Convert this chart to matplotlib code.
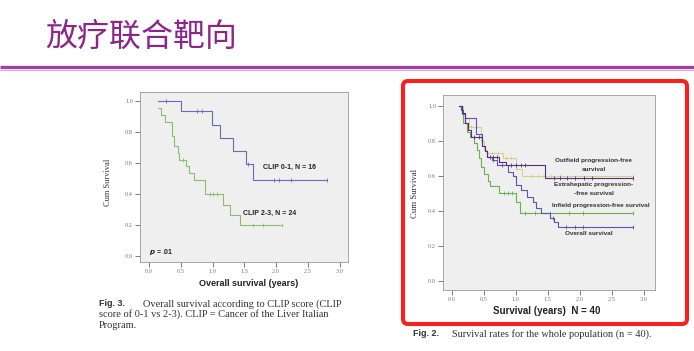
import numpy as np
import matplotlib.pyplot as plt
from matplotlib.patches import FancyBboxPatch

plt.rcParams['font.family'] = ['Liberation Sans', 'Noto Sans CJK SC', 'DejaVu Sans']

W, H = 694, 351

# Fig. 3 - overall survival by CLIP score (step curves: time of drop, new level)
clip01_t = [0.15, 0.51, 0.99, 1.12, 1.32, 1.53, 1.64, 2.80]
clip01_s = [1.0, 0.9375, 0.85, 0.765, 0.68, 0.595, 0.49, 0.49]
clip01_cens = [0.27, 0.75, 0.84, 1.56, 1.96, 2.05, 2.23, 2.80]

clip23_t = [0.15, 0.19, 0.26, 0.37, 0.39, 0.45, 0.47, 0.59, 0.63, 0.71, 0.88,
            1.17, 1.27, 1.43, 2.09]
clip23_s = [0.958, 0.913, 0.87, 0.78, 0.71, 0.667, 0.625, 0.585, 0.54, 0.49,
            0.40, 0.335, 0.27, 0.20, 0.20]
clip23_cens = [0.54, 0.96, 1.00, 1.07, 1.64, 1.79, 2.09]

# Fig. 2 - whole population (n = 40)
os_t = [0.11, 0.14, 0.17, 0.21, 0.38, 0.47, 0.52, 0.55, 0.62, 0.70, 0.88, 0.95,
        1.00, 1.08, 1.17, 1.27, 1.31, 1.40, 1.53, 1.60, 1.66, 2.84]
os_s = [1.00, 0.975, 0.95, 0.93, 0.84, 0.77, 0.74, 0.71, 0.69, 0.665, 0.62, 0.60,
        0.55, 0.52, 0.48, 0.45, 0.42, 0.39, 0.36, 0.34, 0.31, 0.31]
os_cens = [0.64, 0.78, 1.58, 1.78, 1.93, 2.06, 2.84]

out_t = [0.11, 0.15, 0.20, 0.25, 0.30, 0.47, 0.52, 0.55, 0.73, 0.85, 1.45, 2.84]
out_s = [1.0, 0.96, 0.90, 0.86, 0.82, 0.77, 0.74, 0.71, 0.68, 0.66, 0.59, 0.59]
out_cens = [0.35, 0.42, 0.60, 0.65, 0.70, 0.92, 1.00, 1.08, 1.15,
            1.60, 1.70, 1.80, 1.92, 2.07, 2.20, 2.84]

ext_t = [0.11, 0.18, 0.26, 0.45, 0.50, 0.55, 0.80, 1.00, 1.10, 2.84]
ext_s = [1.0, 0.93, 0.88, 0.80, 0.75, 0.73, 0.70, 0.64, 0.60, 0.60]
ext_cens = [0.30, 0.38, 0.62, 0.72, 0.85, 0.92, 1.25, 1.35, 1.55, 1.70, 2.84]

inf_t = [0.11, 0.15, 0.18, 0.23, 0.29, 0.35, 0.39, 0.43, 0.46, 0.50, 0.56, 0.60,
         0.73, 1.01, 1.07, 2.84]
inf_s = [1.0, 0.95, 0.90, 0.85, 0.82, 0.79, 0.75, 0.70, 0.65, 0.61, 0.57, 0.54,
         0.50, 0.45, 0.39, 0.39]
inf_cens = [0.81, 0.88, 0.94, 1.15, 1.30, 1.54, 1.83, 2.06, 2.84]

xticks = [0.0, 0.5, 1.0, 1.5, 2.0, 2.5, 3.0]
yticks = [0.0, 0.2, 0.4, 0.6, 0.8, 1.0]


def box(x0, y0, x1, y1):
    # pixel box -> figure fraction
    return [x0 / W, 1 - y1 / H, (x1 - x0) / W, (y1 - y0) / H]


def level(t, s, c):
    return np.asarray(s)[np.searchsorted(t, c, side='right') - 1]


def km(ax, t, s, cens, color):
    ax.step(t, s, where='post', color=color, lw=0.8)
    ax.plot(cens, level(t, s, cens), '|', color=color, ms=2.5, mew=0.6)


def style(ax, xlim, ylim):
    ax.set_facecolor('#efefef')
    ax.set_xlim(xlim)
    ax.set_ylim(ylim)
    ax.set_xticks(xticks)
    ax.set_yticks(yticks)
    ax.xaxis.set_major_formatter('{x:.1f}')
    ax.yaxis.set_major_formatter('{x:.1f}')
    ax.tick_params(length=3.5, width=0.6, color='#666', labelsize=4.5,
                   labelcolor='#777', pad=1.5)
    for lab in ax.get_xticklabels() + ax.get_yticklabels():
        lab.set_family('Liberation Serif')
    for sp in ax.spines.values():
        sp.set_color('#999')
        sp.set_linewidth(0.6)


fig = plt.figure(figsize=(W / 100, H / 100), dpi=100)

# slide layer in pixel coordinates
bg = fig.add_axes([0, 0, 1, 1])
bg.set_xlim(0, W)
bg.set_ylim(H, 0)
bg.axis('off')

bg.text(45, 37, '放疗联合靶向', fontsize=23, color='#8c248c',
        family=['Noto Sans CJK SC', 'DejaVu Sans'], va='center', ha='left')
bg.plot([0, W], [66.5, 66.5], color='#a040a0', lw=2.4, solid_capstyle='butt')
bg.plot([0, W], [69.5, 69.5], color='#d9a8d9', lw=0.8, solid_capstyle='butt')

# left chart
ax1 = fig.add_axes(box(140, 92, 348, 262))
style(ax1, (-0.14, 3.13), (-0.036, 1.061))
km(ax1, clip01_t, clip01_s, clip01_cens, '#6a6ab8')
km(ax1, clip23_t, clip23_s, clip23_cens, '#88c070')
ax1.text(1.8, 0.576, 'CLIP 0-1, N = 16', fontsize=5, weight='bold', va='center', color='#222')
ax1.text(1.48, 0.276, 'CLIP 2-3, N = 24', fontsize=5, weight='bold', va='center', color='#222')
ax1.text(0.0, 0.03, r'$\mathbfit{p}$ = .01', fontsize=5, weight='bold', va='center', color='#222')

bg.text(108, 182, 'Cum Survival', rotation=90, fontsize=6, family='Liberation Serif',
        ha='center', va='center', color='#333')
bg.text(249, 284, 'Overall survival (years)', fontsize=6.5, weight='bold',
        ha='center', va='center', color='#222')
bg.text(99, 304, 'Fig. 3.', fontsize=6.5, weight='bold', va='center', color='#333')
bg.text(143, 304, 'Overall survival according to CLIP score (CLIP', fontsize=7.5,
        family='Liberation Serif', va='center', color='#333')
bg.text(99, 314.5, 'score of 0-1 vs 2-3). CLIP = Cancer of the Liver Italian', fontsize=7.5,
        family='Liberation Serif', va='center', color='#333')
bg.text(99, 325, 'Program.', fontsize=7.5, family='Liberation Serif', va='center', color='#333')

# right chart
ax2 = fig.add_axes(box(443, 95, 655, 290))
style(ax2, (-0.14, 3.18), (-0.05, 1.061))
km(ax2, ext_t, ext_s, ext_cens, '#d2d28c')
km(ax2, inf_t, inf_s, inf_cens, '#6ab04c')
km(ax2, os_t, os_s, os_cens, '#5555b5')
km(ax2, out_t, out_s, out_cens, '#5a2d82')
lab = dict(fontsize=4.6, weight='bold', ha='center', va='center', color='#333')
ax2.text(2.22, 0.689, 'Outfield progression-free', **lab)
ax2.text(2.22, 0.637, 'survival', **lab)
ax2.text(2.22, 0.553, 'Extrahepatic progression-', **lab)
ax2.text(2.22, 0.500, '-free survival', **lab)
ax2.text(2.33, 0.430, 'Infield progression-free survival', **lab)
ax2.text(2.14, 0.270, 'Overall survival', **lab)

bg.text(415, 193, 'Cum Survival', rotation=90, fontsize=6.3, family='Liberation Serif',
        ha='center', va='center', color='#333')
bg.text(547, 311, 'Survival (years)  N = 40', fontsize=7, weight='bold',
        ha='center', va='center', color='#222')
bg.text(413, 334, 'Fig. 2.', fontsize=6.5, weight='bold', va='center', color='#333')
bg.text(452, 334, 'Survival rates for the whole population (n = 40).', fontsize=7.4,
        family='Liberation Serif', va='center', color='#333')

bg.add_patch(FancyBboxPatch((403, 81), 284, 243, boxstyle='round,pad=0,rounding_size=5',
                            fill=False, edgecolor='#ff1e1e', lw=2.9))

fig.savefig('out.png', dpi=100)
